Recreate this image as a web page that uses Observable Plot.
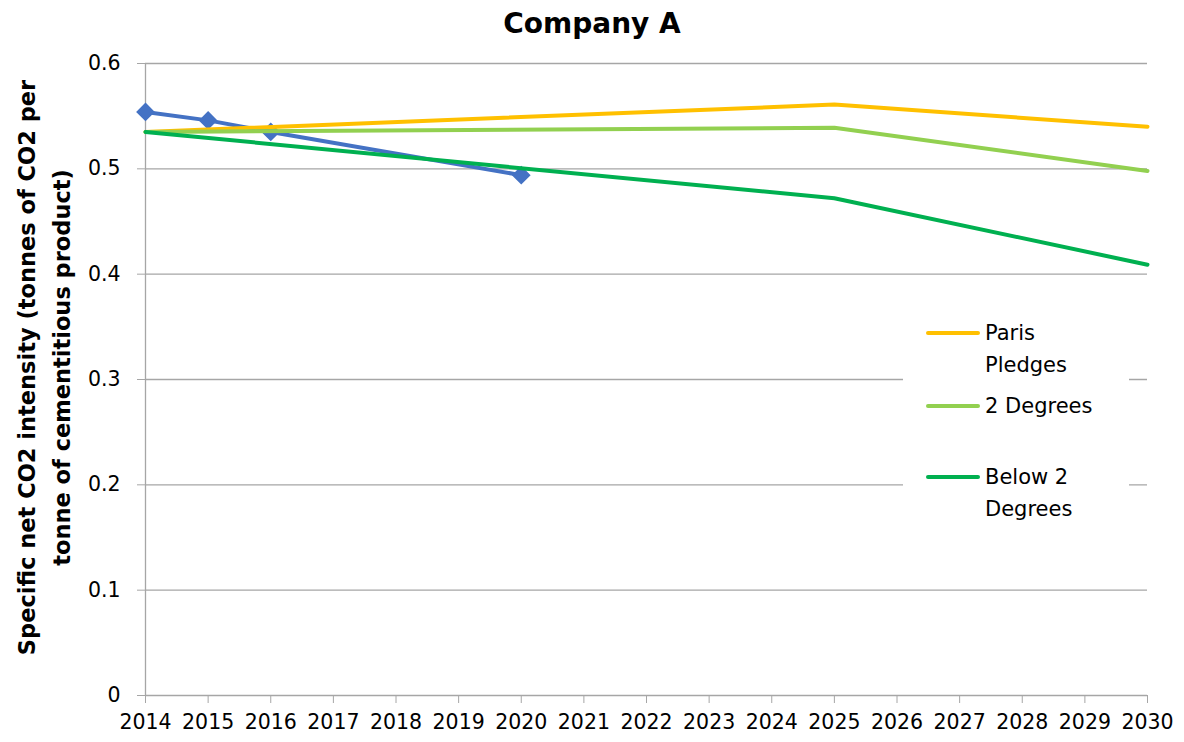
<!DOCTYPE html>
<html>
<head>
<meta charset="utf-8">
<script src="https://cdn.jsdelivr.net/npm/d3@7"></script>
<script src="https://cdn.jsdelivr.net/npm/@observablehq/plot@0.6"></script>
<style>
  body { margin: 0; background: #fff; }
  #wrap { position: relative; width: 1184px; height: 742px; font-family: "DejaVu Sans", sans-serif; color: #000; }
  #title { height: 47px; line-height: 47px; text-align: center; font-weight: bold; font-size: 28px; }
  #chart svg [aria-label^="x-axis"] path, #chart svg [aria-label^="y-axis"] path,
  #chart svg g.tick line { stroke: #a6a6a6; }
  #legend { position: absolute; left: 903px; top: 318px; width: 226px; height: 207px; background: #fff; font-size: 21px; }
  .swatch { position: absolute; left: 23px; width: 54px; height: 4px; border-radius: 2px; }
  .label { position: absolute; left: 82px; line-height: 32px; white-space: nowrap; }
</style>
</head>
<body>
<div id="wrap">
  <div id="title">Company A</div>
  <div id="chart"></div>
  <div id="legend"></div>
</div>
<script>
const years = [2014, 2015, 2016, 2017, 2018, 2019, 2020, 2021, 2022, 2023, 2024, 2025, 2026, 2027, 2028, 2029, 2030];
const yTicks = [0, 0.1, 0.2, 0.3, 0.4, 0.5, 0.6];

const companyYears = [2014, 2015, 2016, 2020];
const companyValues = [0.554, 0.546, 0.535, 0.494];

const scenarioYears = [2014, 2025, 2030];
const parisValues = [0.535, 0.561, 0.540];
const twoDegValues = [0.535, 0.539, 0.498];
const below2Values = [0.535, 0.472, 0.409];

const seriesNames = ["Paris\nPledges", "2 Degrees", "Below 2\nDegrees"];
const seriesColors = ["#FFC000", "#92D050", "#00B050"];
const companyColor = "#4472C4";
const yLabel = "Specific net CO2 intensity (tonnes of CO2 per\ntonne of cementitious product)";

const company = companyYears.map((x, i) => ({x, y: companyValues[i]}));
const scenarios = [parisValues, twoDegValues, below2Values].map((vals, s) =>
  scenarioYears.map((x, i) => ({x, y: vals[i], s})));

const font = "'DejaVu Sans', sans-serif";

const chart = Plot.plot({
  width: 1184,
  height: 695,
  marginLeft: 145,
  marginRight: 37,
  marginTop: 16,
  marginBottom: 47,
  style: {fontFamily: font, fontSize: "20.5px", color: "#000", background: "#fff", overflow: "visible"},
  x: {domain: [2014, 2030], ticks: years, tickFormat: d => String(d), tickSize: 8, tickPadding: 11, label: null},
  y: {domain: [0, 0.6], ticks: yTicks, tickFormat: d => String(d), tickSize: 8, tickPadding: 17, label: null},
  marks: [
    Plot.ruleY(yTicks, {stroke: "#a6a6a6", strokeWidth: 1.3}),
    Plot.ruleX([2014], {stroke: "#a6a6a6", strokeWidth: 1.3}),
    Plot.line(company, {x: "x", y: "y", stroke: companyColor, strokeWidth: 4}),
    Plot.dot(company, {x: "x", y: "y", symbol: "diamond2", r: 7.5, fill: companyColor, stroke: companyColor}),
    ...scenarios.map((d, s) => Plot.line(d, {x: "x", y: "y", stroke: seriesColors[s], strokeWidth: 4})),
    Plot.text([yLabel], {frameAnchor: "left", text: d => d, rotate: -90, dx: -104, dy: -12,
      fontWeight: "bold", fontSize: 22.5, lineHeight: 1.52, textAnchor: "middle", fill: "#000"})
  ]
});
document.getElementById("chart").appendChild(chart);

const legend = document.getElementById("legend");
const centers = [15, 88, 159];
seriesNames.forEach((name, i) => {
  const sw = document.createElement("div");
  sw.className = "swatch";
  sw.style.top = (centers[i] - 2) + "px";
  sw.style.background = seriesColors[i];
  legend.appendChild(sw);
  const lb = document.createElement("div");
  lb.className = "label";
  lb.style.top = (centers[i] - 16) + "px";
  lb.innerHTML = name.split("\n").join("<br>");
  legend.appendChild(lb);
});
</script>
</body>
</html>
